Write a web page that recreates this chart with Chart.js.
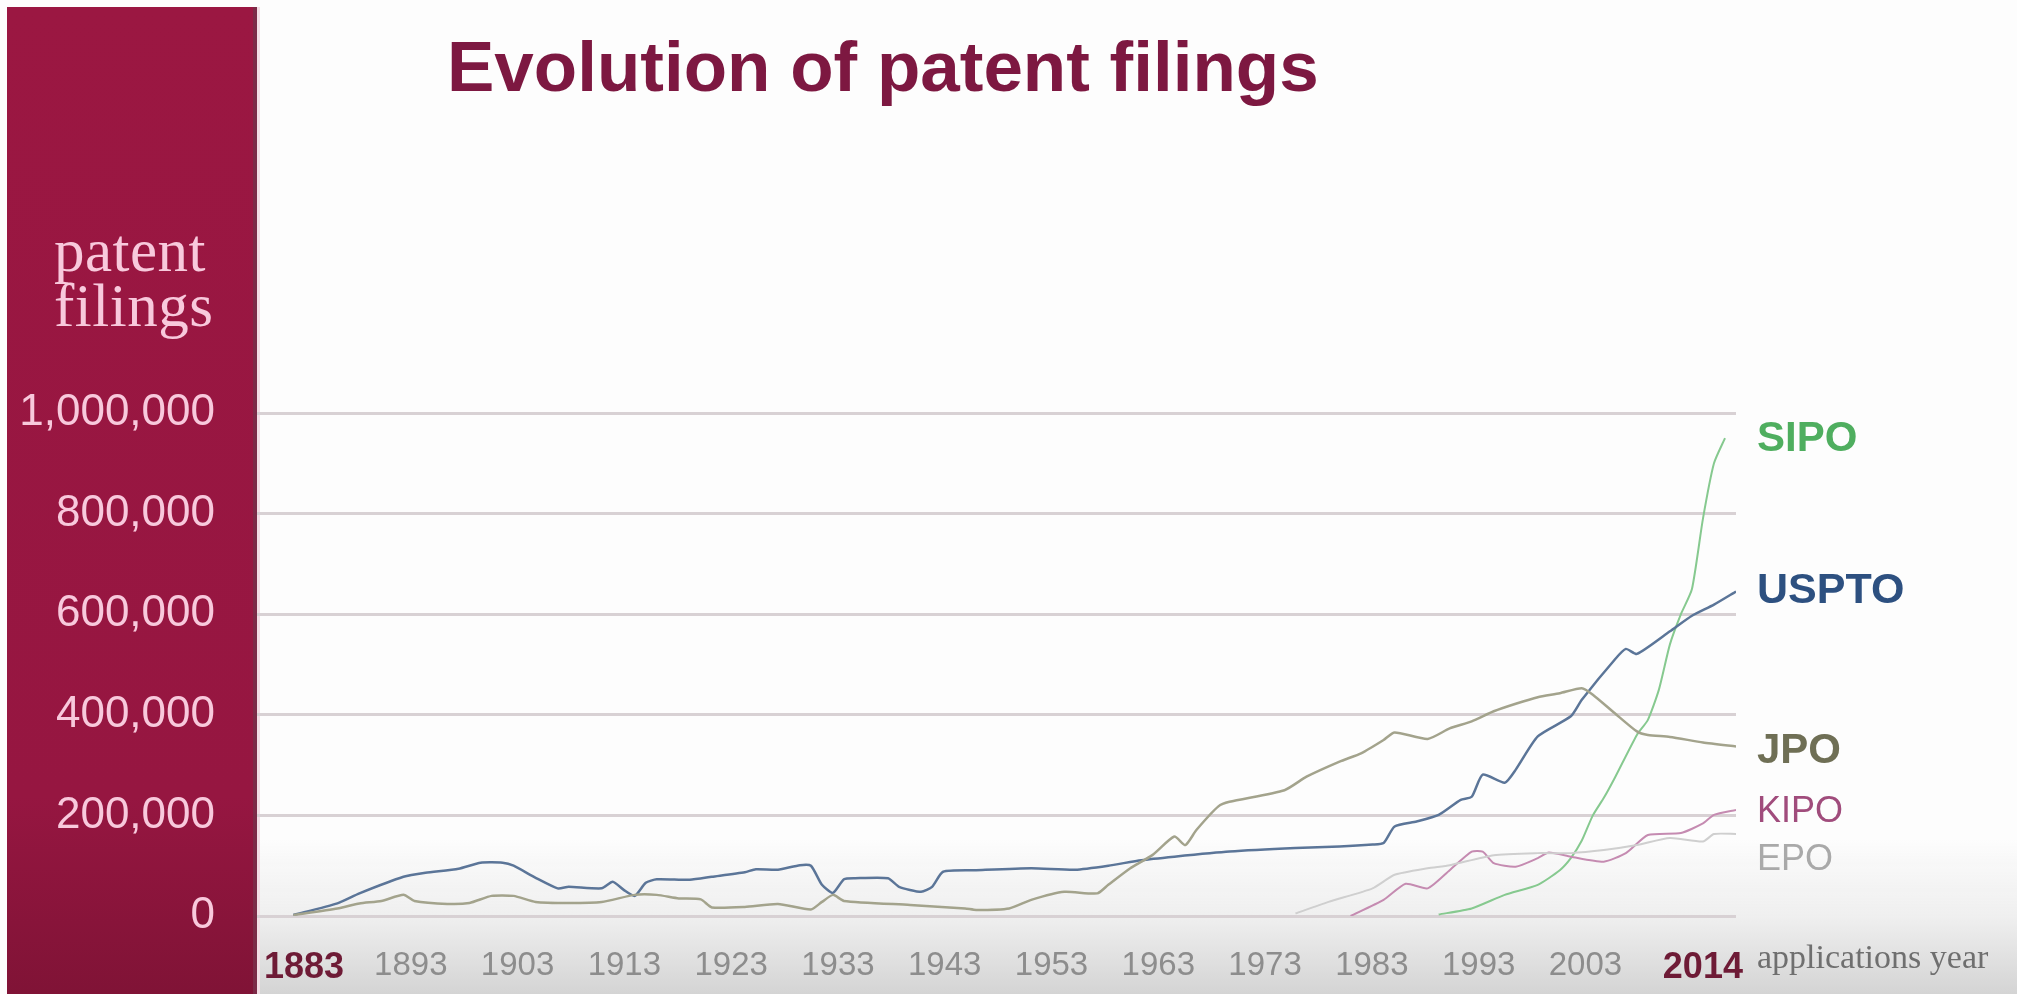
<!DOCTYPE html>
<html>
<head>
<meta charset="utf-8">
<title>Evolution of patent filings</title>
<script src="https://cdn.jsdelivr.net/npm/chart.js@4.4.1/dist/chart.umd.min.js"></script>
<style>
  html, body { margin: 0; padding: 0; background: #fdfdfd; overflow: hidden; }
  #wrap { position: relative; width: 2017px; height: 994px; }
  #chartBox { position: absolute; left: 0; top: 0; width: 2017px; height: 994px; }
  .title { position: absolute; left: 447px; top: 31px; margin: 0; white-space: nowrap;
           font: bold 71px/1 'Liberation Sans', Arial, sans-serif; color: #7d1841; }
  .ylabel { position: absolute; left: 54px; top: 223px; letter-spacing: 0.5px;
            font: 61px/55px 'Liberation Serif', 'Times New Roman', serif; color: #f8c9dc; }
  .xlabel { position: absolute; left: 1757px; top: 940px; white-space: nowrap;
            font: 34px/1 'Liberation Serif', 'Times New Roman', serif; color: #6f6f6f; }
</style>
</head>
<body>
<div id="wrap">
  <div id="chartBox"><canvas id="patentChart"></canvas></div>
  <h1 class="title">Evolution of patent filings</h1>
  <div class="ylabel">patent<br>filings</div>
  <div class="xlabel">applications year</div>
</div>

<script>
// tick labels
const yearTicks = [1883, 1893, 1903, 1913, 1923, 1933, 1943, 1953, 1963, 1973, 1983, 1993, 2003, 2014];
const filingTicks = [0, 200000, 400000, 600000, 800000, 1000000];
const offices = ['SIPO', 'USPTO', 'JPO', 'KIPO', 'EPO'];

// values (year, filings)
const usptoYears = [1883, 1887, 1889, 1893, 1895, 1898, 1900, 1902, 1903, 1905, 1907, 1908, 1911, 1912, 1913, 1914, 1915, 1916, 1919, 1921,
  1924, 1925, 1927, 1929, 1930, 1931, 1932, 1933, 1934, 1937, 1938, 1940, 1941, 1942, 1945, 1950, 1954, 1957, 1960, 1963,
  1968, 1974, 1978, 1981, 1982, 1983, 1985, 1987, 1989, 1990, 1991, 1993, 1994, 1996, 1999, 2000, 2003, 2004, 2005, 2008,
  2010, 2012, 2014];
const usptoValues = [2000, 25000, 45000, 78000, 86000, 94000, 106000, 106000, 100000, 76000, 55000, 58000, 55000, 68000, 52000, 40000, 66000, 73000, 72000, 78000,
  87000, 93000, 92000, 101000, 100000, 62000, 46000, 73000, 75000, 75000, 58000, 48000, 58000, 88000, 91000, 95000, 92000, 100000, 111000, 118000,
  128000, 135000, 138000, 142000, 145000, 178000, 188000, 201000, 231000, 237000, 281000, 265000, 291000, 357000, 397000, 430000, 510000, 531000, 521000, 566000,
  597000, 619000, 645000];

const jpoYears = [1883, 1887, 1889, 1891, 1893, 1894, 1897, 1899, 1901, 1903, 1905, 1908, 1911, 1914, 1916, 1918, 1920, 1921, 1924, 1927,
  1930, 1931, 1932, 1933, 1939, 1944, 1945, 1948, 1950, 1953, 1956, 1957, 1959, 1961, 1963, 1964, 1965, 1967, 1968, 1973,
  1975, 1978, 1980, 1982, 1983, 1986, 1988, 1990, 1992, 1994, 1996, 1998, 2000, 2001, 2003, 2005, 2006, 2008, 2011, 2014];
const jpoValues = [2000, 15000, 25000, 30000, 42000, 30000, 24000, 26000, 40000, 40000, 28000, 26000, 28000, 42000, 42000, 35000, 33000, 17000, 18000, 24000,
  13000, 28000, 42000, 30000, 22000, 15000, 12000, 15000, 32000, 48000, 45000, 62000, 95000, 121000, 158000, 141000, 171000, 218000, 227000, 250000,
  277000, 307000, 324000, 350000, 365000, 352000, 373000, 387000, 407000, 422000, 435000, 443000, 453000, 440000, 403000, 367000, 360000, 356000, 345000, 337000];

const sipoYears = [1987, 1990, 1993, 1996, 1998, 1999, 2000, 2001, 2002, 2003, 2005, 2006, 2007, 2008, 2009, 2010, 2011, 2012, 2013];
const sipoValues = [3000, 15000, 42000, 62000, 91000, 115000, 150000, 200000, 235000, 275000, 360000, 390000, 450000, 540000, 600000, 650000, 790000, 900000, 950000];

const kipoYears = [1979, 1982, 1984, 1986, 1988, 1990, 1991, 1992, 1994, 1996, 1997, 1999, 2002, 2004, 2006, 2009, 2011, 2012, 2014];
const kipoValues = [0, 32000, 64000, 55000, 91000, 128000, 128000, 105000, 98000, 115000, 126000, 118000, 108000, 125000, 161000, 165000, 184000, 201000, 211000];

const epoYears = [1974, 1977, 1981, 1983, 1986, 1988, 1992, 1996, 1999, 2002, 2005, 2008, 2011, 2012, 2014];
const epoValues = [5000, 28000, 55000, 82000, 95000, 101000, 121000, 125000, 125000, 131000, 141000, 155000, 148000, 163000, 163000];

function points(years, values) {
  return years.map((yr, i) => ({ x: yr, y: values[i] }));
}

const FONT = "'Liberation Sans', Arial, sans-serif";

// crimson band behind the axis + grey fade at the bottom
const backdrop = {
  id: 'backdrop',
  beforeDraw(chart) {
    const { ctx, chartArea } = chart;
    ctx.save();
    let g = ctx.createLinearGradient(0, 840, 0, chart.height);
    g.addColorStop(0, 'rgba(236,236,236,0)');
    g.addColorStop(0.5, '#efefef');
    g.addColorStop(1, '#d4d4d4');
    ctx.fillStyle = g;
    ctx.fillRect(chartArea.left, 840, chart.width - chartArea.left, chart.height - 840);

    g = ctx.createLinearGradient(0, 7, 0, chart.height);
    g.addColorStop(0, '#9b1742');
    g.addColorStop(0.8, '#961641');
    g.addColorStop(1, '#801336');
    ctx.fillStyle = g;
    ctx.fillRect(7, 7, chartArea.left - 7, chart.height - 7);
    ctx.fillStyle = '#7c2a47';
    ctx.fillRect(chartArea.left - 4, 7, 4, chart.height - 7);
    ctx.fillStyle = '#f3dde5';
    ctx.fillRect(chartArea.left, 7, 3, chart.height - 7);
    ctx.restore();
  }
};

// office names to the right of the lines
const endLabels = {
  id: 'endLabels',
  afterDraw(chart) {
    const { ctx, chartArea } = chart;
    const styles = {
      SIPO:  { y: 439, color: '#4fae5f', font: 'bold 42px ' + FONT },
      USPTO: { y: 591, color: '#2d5080', font: 'bold 43px ' + FONT },
      JPO:   { y: 751, color: '#6f6f55', font: 'bold 42px ' + FONT },
      KIPO:  { y: 812, color: '#a04c7c', font: '36px ' + FONT },
      EPO:   { y: 860, color: '#a9a9a9', font: '36px ' + FONT }
    };
    ctx.save();
    ctx.textAlign = 'left';
    ctx.textBaseline = 'middle';
    offices.forEach(name => {
      const s = styles[name];
      ctx.font = s.font;
      ctx.fillStyle = s.color;
      ctx.fillText(name, chartArea.right + 21, s.y);
    });
    ctx.restore();
  }
};

const isEnd = ctx => !!ctx.tick && (ctx.tick.value === 1883 || ctx.tick.value === 2014);

new Chart(document.getElementById('patentChart'), {
  type: 'line',
  data: {
    datasets: [
      { label: 'EPO', data: points(epoYears, epoValues), borderColor: '#cfcfcf', borderWidth: 2 },
      { label: 'KIPO', data: points(kipoYears, kipoValues), borderColor: '#c58bb1', borderWidth: 2 },
      { label: 'JPO', data: points(jpoYears, jpoValues), borderColor: '#a3a38c', borderWidth: 2.5 },
      { label: 'USPTO', data: points(usptoYears, usptoValues), borderColor: '#5b7598', borderWidth: 2.5 },
      { label: 'SIPO', data: points(sipoYears, sipoValues), borderColor: '#86c98f', borderWidth: 2 }
    ]
  },
  options: {
    responsive: true,
    maintainAspectRatio: false,
    animation: false,
    layout: { padding: { top: 413, right: 281, bottom: 0, left: 0 } },
    elements: { point: { radius: 0 }, line: { tension: 0.2 } },
    plugins: { legend: { display: false }, tooltip: { enabled: false } },
    scales: {
      x: {
        type: 'linear',
        min: 1879.7,
        max: 2014,
        display: false
      },
      // tick labels sit a little left of the data years, as in the original slide
      x2: {
        type: 'linear',
        position: 'bottom',
        min: 1878.6,
        max: 2017.1,
        afterBuildTicks: axis => { axis.ticks = yearTicks.map(v => ({ value: v })); },
        afterFit: axis => { axis.height = 78; },
        grid: { display: false },
        border: { display: false },
        ticks: {
          padding: 22,
          maxRotation: 0,
          autoSkip: false,
          callback: v => String(v),
          color: ctx => isEnd(ctx) ? '#6e1b36' : '#8d8d8d',
          font: ctx => isEnd(ctx)
            ? { family: FONT, size: 36, weight: 'bold' }
            : { family: FONT, size: 33, weight: 'normal' }
        }
      },
      y: {
        min: 0,
        max: 1000000,
        afterBuildTicks: axis => { axis.ticks = filingTicks.map(v => ({ value: v })); },
        afterFit: axis => { axis.width = 257; },
        grid: { color: '#d8d1d4', lineWidth: 3, drawTicks: false },
        border: { display: false },
        ticks: {
          padding: 42,
          color: '#f8c9dc',
          font: { family: FONT, size: 44 },
          callback: v => v.toLocaleString('en-US')
        }
      }
    }
  },
  plugins: [backdrop, endLabels]
});
</script>
</body>
</html>
